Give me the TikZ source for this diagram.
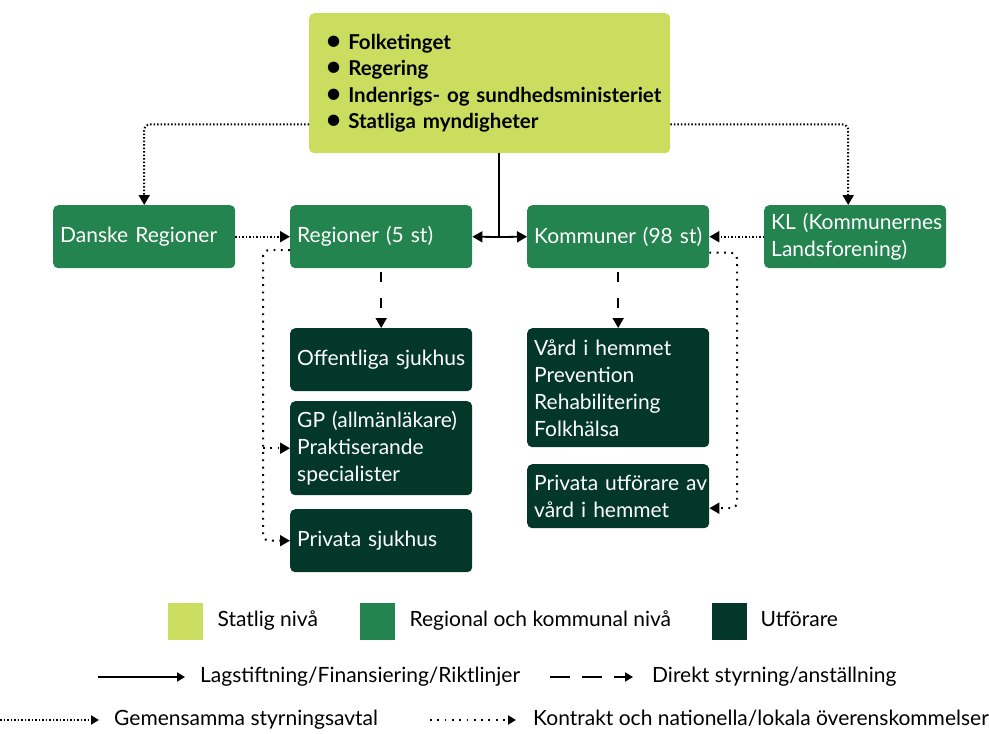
\documentclass[tikz,border=0pt]{standalone}
\usepackage{fontspec}
\setmainfont{Lato}
\usetikzlibrary{arrows.meta}
\usetikzlibrary{positioning}

\definecolor{statlig}{HTML}{CADD5F}
\definecolor{regional}{HTML}{24844F}
\definecolor{utforare}{HTML}{03372A}

\newcommand{\statbullet}{{\fontsize{26}{26.5}\selectfont\textbullet}\hspace{7pt}}

\tikzset{
  box/.style={rectangle, rounded corners=5pt, anchor=north west, inner xsep=7pt,
    align=left, text width=#1, font=\fontsize{21}{27}\selectfont},
  statbox/.style={box=327pt, fill=statlig, inner xsep=17pt, text=black,
    font=\fontsize{20.5}{26.5}\selectfont\bfseries},
  regbox/.style={box=168pt, fill=regional, text=white, minimum height=63pt},
  utfbox/.style={box=168pt, fill=utforare, text=white},
  legsq/.style={rectangle, anchor=north west, minimum width=35pt, minimum height=37pt, inner sep=0pt},
  legtext/.style={anchor=west, inner sep=0pt, text height=15pt, text depth=5pt,
    font=\fontsize{21}{24}\selectfont},
  tip/.style={-{Triangle[length=10pt,width=11pt]}},
  smalltip/.style={-{Triangle[length=8pt,width=9pt]}},
  lag/.style={line width=1.8pt},
  direkt/.style={line width=1.8pt, dash pattern=on 10pt off 16pt},
  gemensam/.style={line width=2pt, dash pattern=on 1.5pt off 2pt, rounded corners=6pt},
  kontrakt/.style={line width=2pt, dash pattern=on 1.8pt off 5.5pt, rounded corners=6pt}
}

\begin{document}
\begin{tikzpicture}[x=1pt, y=-1pt]
\useasboundingbox (0,0) rectangle (989,734);

% Drawing the boxes
\node[statbox, minimum width=361pt, minimum height=140pt] (stat) at (309,13)
  {\mbox{\statbullet Folketinget}\\
   \mbox{\statbullet Regering}\\
   \mbox{\statbullet Indenrigs- og sundhedsministeriet}\\
   \mbox{\statbullet Statliga myndigheter}};

\node[regbox] (dreg) at (53,205) {Danske Regioner};
\node[regbox] (reg) at (290,205) {Regioner (5 st)};
\node[regbox] (kom) at (527,205) {Kommuner (98 st)};
\node[regbox] (kl) at (764,205) {\mbox{KL (Kommunernes}\\Landsforening)};

\node[utfbox, minimum height=63pt] (off) at (290,328) {Offentliga sjukhus};
\node[utfbox, minimum height=94pt] (gp) at (290,401) {\mbox{GP (allmänläkare)}\\Praktiserande\\specialister};
\node[utfbox, minimum height=63pt] (privs) at (290,509) {Privata sjukhus};
\node[utfbox, minimum height=119pt] (vard) at (527,328) {Vård i hemmet\\Prevention\\Rehabilitering\\Folkhälsa};
\node[utfbox, minimum height=64pt] (puf) at (527,464) {\mbox{Privata utförare av}\\vård i hemmet};

% Drawing lagstiftning
\coordinate (split) at (499,237);
\draw[lag] (split |- stat.south) -- (split);
\draw[lag, tip] (split) -- (reg.east);
\draw[lag, tip] (split) -- (kom.west);

% Drawing gemensamma styrningsavtal
\draw[gemensam, tip] ([yshift=29pt]stat.south west) -| (dreg.north);
\draw[gemensam, tip] ([yshift=29pt]stat.south east) -| ([xshift=-7pt]kl.north);
\draw[gemensam, tip] (dreg.east) -- (reg.west);
\draw[gemensam, tip] (kl.west) -- (kom.east);

% Drawing direkt styrning
\draw[direkt, tip, shorten <=4pt] (reg.south) -- (off.north);
\draw[direkt, tip, shorten <=4pt] (kom.south) -- (vard.north);

% Drawing kontrakt
\coordinate (kleft) at (263,0);
\coordinate (kright) at (737,0);
\coordinate (pufa) at ([yshift=-12pt]puf.east);
\draw[kontrakt, tip] ([yshift=-13.5pt]reg.west) -| (kleft |- privs.west) -- (privs.west);
\draw[kontrakt, tip] (kleft |- gp.west) -- (gp.west);
\draw[kontrakt, tip] ([yshift=-16pt]kom.east) -| (kright |- pufa) -- (pufa);

% Drawing legend
\node[legsq, fill=statlig] (lsq1) at (168,603) {};
\node[legtext, right=14pt of lsq1] (ltx1) {Statlig nivå};
\node[legsq, fill=regional] (lsq2) at (360,603) {};
\node[legtext, right=14pt of lsq2] (ltx2) {Regional och kommunal nivå};
\node[legsq, fill=utforare] (lsq3) at (712,603) {};
\node[legtext, right=13pt of lsq3] (ltx3) {Utförare};

\coordinate (l1a) at (98,677);
\coordinate (l1b) at (185,677);
\draw[lag, smalltip] (l1a) -- (l1b);
\node[legtext] (l1t) at (200,677) {Lagstiftning/Finansiering/Riktlinjer};
\coordinate (l2a) at (550,677);
\coordinate (l2b) at (633,677);
\draw[direkt, dash pattern=on 20pt off 12pt, smalltip] (l2a) -- (l2b);
\node[legtext] (l2t) at (652,677) {Direkt styrning/anställning};

\coordinate (l3a) at (0,720);
\coordinate (l3b) at (99,720);
\draw[gemensam, smalltip] (l3a) -- (l3b);
\node[legtext] (l3t) at (114,720) {Gemensamma styrningsavtal};
\coordinate (l4a) at (430,720);
\coordinate (l4b) at (516,720);
\draw[kontrakt, smalltip] (l4a) -- (l4b);
\node[legtext] (l4t) at (533,720) {Kontrakt och nationella/lokala överenskommelser};
\end{tikzpicture}
\end{document}
